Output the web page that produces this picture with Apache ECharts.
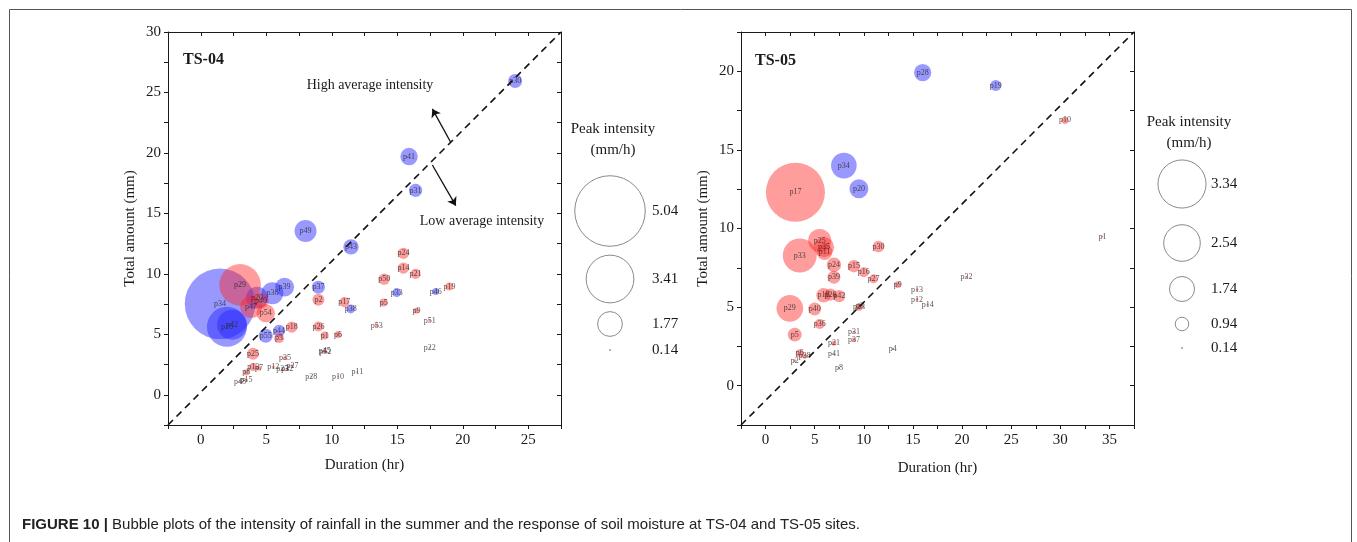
<!DOCTYPE html>
<html>
<head>
<meta charset="utf-8">
<script src="https://cdn.jsdelivr.net/npm/echarts@6/dist/echarts.min.js"></script>
<style>
  html, body { margin: 0; padding: 0; background: #fff; }
  #chart { width: 1357px; height: 542px; }
</style>
</head>
<body>
<div id="chart"></div>
<script>
// [duration (hr), total amount (mm), peak intensity (mm/h), event]
const ts04Blue = [
  [24.0, 25.95, 1.0, 'p30'], [15.9, 19.7, 1.24, 'p41'], [16.4, 16.9, 0.95, 'p31'],
  [8.0, 13.55, 1.57, 'p49'], [11.47, 12.23, 1.1, 'p43'], [6.4, 8.9, 1.35, 'p39'],
  [8.98, 8.9, 0.93, 'p37'], [11.45, 7.1, 0.64, 'p38'], [14.96, 8.45, 0.64, 'p33'],
  [17.94, 8.54, 0.5, 'p46'], [5.47, 8.4, 1.57, 'p36'], [1.47, 7.52, 5.04, 'p34'],
  [2.0, 5.62, 2.86, 'p16'], [2.39, 5.79, 2.14, 'p42'], [4.96, 4.88, 1.0, 'p55'],
  [5.98, 5.29, 0.86, 'p44'], [4.3, 8.02, 1.57, 'p20']
];
const ts04Red = [
  [3.0, 9.09, 2.97, 'p29'], [3.84, 7.27, 1.57, 'p47'], [4.6, 7.8, 1.1, 'p40'],
  [4.96, 6.75, 1.3, 'p54'], [5.98, 4.68, 0.7, 'p3'], [6.95, 5.6, 0.8, 'p18'],
  [8.98, 5.65, 0.72, 'p26'], [9.46, 4.9, 0.57, 'p1'], [10.48, 4.98, 0.5, 'p6'],
  [9.46, 3.6, 0.3, 'p45'], [9.5, 3.55, 0.2, 'p52'], [8.98, 7.85, 0.86, 'p2'],
  [10.96, 7.66, 0.72, 'p17'], [15.47, 11.7, 0.8, 'p24'], [15.47, 10.47, 0.8, 'p14'],
  [16.4, 10.0, 0.72, 'p21'], [14.0, 9.56, 0.8, 'p50'], [18.98, 8.95, 0.57, 'p19'],
  [13.97, 7.63, 0.57, 'p5'], [16.46, 6.94, 0.43, 'p9'], [17.48, 6.14, 0.2, 'p51'],
  [17.48, 3.91, 0.14, 'p22'], [13.43, 5.73, 0.28, 'p53'], [8.44, 1.51, 0.14, 'p28'],
  [10.48, 1.51, 0.14, 'p10'], [11.95, 1.88, 0.14, 'p11'], [3.99, 3.39, 0.86, 'p25'],
  [6.43, 3.03, 0.3, 'p35'], [4.0, 2.29, 0.57, 'p13'], [4.45, 2.2, 0.36, 'p7'],
  [5.54, 2.3, 0.22, 'p12'], [6.23, 2.1, 0.2, 'p23'], [6.6, 2.1, 0.2, 'p32'],
  [7.0, 2.4, 0.2, 'p27'], [3.48, 1.85, 0.43, 'p8'], [3.0, 1.1, 0.2, 'p48'],
  [3.5, 1.2, 0.2, 'p15']
];
const ts05Blue = [
  [15.99, 19.92, 1.2, 'p28'], [23.43, 19.1, 0.76, 'p19'], [7.97, 14.0, 1.78, 'p34'],
  [9.5, 12.53, 1.32, 'p20']
];
const ts05Red = [
  [30.47, 16.88, 0.5, 'p10'], [3.04, 12.31, 4.1, 'p17'], [5.51, 9.24, 1.6, 'p25'],
  [5.95, 8.81, 1.4, 'p35'], [6.0, 8.5, 1.1, 'p11'], [3.48, 8.28, 2.36, 'p33'],
  [11.49, 8.85, 0.8, 'p30'], [6.96, 7.69, 1.0, 'p24'], [8.99, 7.6, 0.86, 'p15'],
  [10.0, 7.22, 0.7, 'p16'], [10.99, 6.8, 0.62, 'p27'], [6.96, 6.9, 0.9, 'p39'],
  [13.45, 6.43, 0.48, 'p9'], [15.42, 6.11, 0.2, 'p13'], [15.42, 5.48, 0.2, 'p12'],
  [16.5, 5.16, 0.18, 'p14'], [20.45, 6.9, 0.18, 'p32'], [12.95, 2.34, 0.14, 'p4'],
  [34.3, 9.49, 0.14, 'p1'], [5.9, 5.75, 1.0, 'p18'], [6.6, 5.8, 0.85, 'p26'],
  [7.5, 5.7, 0.85, 'p42'], [2.47, 4.92, 1.85, 'p29'], [5.0, 4.88, 0.9, 'p40'],
  [5.51, 3.93, 0.7, 'p36'], [2.97, 3.25, 0.97, 'p5'], [9.5, 4.99, 0.5, 'p23'],
  [9.6, 5.05, 0.3, 'p3'], [8.99, 3.4, 0.2, 'p31'], [8.99, 2.91, 0.3, 'p37'],
  [6.96, 2.7, 0.35, 'p21'], [6.96, 2.02, 0.14, 'p41'], [7.47, 1.13, 0.14, 'p8'],
  [3.48, 2.06, 0.55, 'p6'], [3.99, 1.87, 0.35, 'p38'], [2.97, 1.59, 0.2, 'p2']
];

const legend04 = [5.04, 3.41, 1.77, 0.14];
const legend05 = [3.34, 2.54, 1.74, 0.94, 0.14];

const range04 = { x: [-2.5, 27.5], y: [-2.5, 30] };
const range05 = { x: [-2.5, 37.5], y: [-2.5, 22.5] };
// diagonal reference line, corner to corner of each plot
const diag04 = [[-2.5, -2.5], [27.5, 30]];
const diag05 = [[-2.5, -2.5], [37.5, 22.5]];
const arrowUp04 = [[19.08, 20.88], [17.68, 23.64]];
const arrowDown04 = [[17.68, 19.0], [19.47, 15.64]];

const SERIF = 'Liberation Serif';
const INK = '#1a1a1a';
const BLUE = 'rgba(40,40,255,0.6)';
const RED = 'rgba(255,40,40,0.58)';
const R04 = 7;   // px radius per mm/h
const R05 = 7.2;

function majorOnly(v) {
  return Math.abs(v % 5) < 1e-9 ? String(v) : '';
}

function axisBase(gridIndex, range) {
  return {
    gridIndex, type: 'value', min: range[0], max: range[1], interval: 2.5,
    splitLine: { show: false },
    axisLine: { onZero: false, lineStyle: { color: INK, width: 1 } },
  };
}

function xAxes(gridIndex, range, nameGap) {
  const base = axisBase(gridIndex, range);
  return [
    Object.assign({}, base, {
      position: 'bottom',
      name: 'Duration (hr)', nameLocation: 'middle', nameGap,
      nameTextStyle: { fontFamily: SERIF, fontSize: 15, color: INK },
      axisTick: { length: 4, lineStyle: { color: INK } },
      axisLabel: { formatter: majorOnly, fontFamily: SERIF, fontSize: 15, color: INK, margin: 8 },
    }),
    Object.assign({}, base, {
      position: 'top',
      axisTick: { inside: true, length: 4, lineStyle: { color: INK } },
      axisLabel: { show: false },
    }),
  ];
}

function yAxes(gridIndex, range) {
  const base = axisBase(gridIndex, range);
  return [
    Object.assign({}, base, {
      position: 'left',
      name: 'Total amount (mm)', nameLocation: 'middle', nameGap: 30,
      nameTextStyle: { fontFamily: SERIF, fontSize: 15, color: INK },
      axisTick: { length: 4, lineStyle: { color: INK } },
      axisLabel: { formatter: majorOnly, fontFamily: SERIF, fontSize: 15, color: INK, margin: 7 },
    }),
    Object.assign({}, base, {
      position: 'right',
      axisTick: { inside: true, length: 4, lineStyle: { color: INK } },
      axisLabel: { show: false },
    }),
  ];
}

function bubbles(data, color, scale, axisIndex) {
  return {
    type: 'scatter',
    xAxisIndex: axisIndex, yAxisIndex: axisIndex,
    data,
    symbolSize: (d) => Math.max(1.5, d[2] * scale * 2),
    itemStyle: { color },
    label: {
      show: true, position: 'inside',
      formatter: (p) => p.data[3],
      fontFamily: SERIF, fontSize: 8, color: '#2a2a2a',
    },
    emphasis: { disabled: true },
    silent: true,
    z: 3,
  };
}

function diagonal(points, axisIndex, extra) {
  return Object.assign({
    type: 'line',
    xAxisIndex: axisIndex, yAxisIndex: axisIndex,
    data: points,
    symbol: 'none',
    lineStyle: { color: '#111', width: 1.6, type: [7, 5] },
    silent: true,
    z: 4,
  }, extra || {});
}

function legendGraphics(values, scale, cx, ys, labelX, titleX, titleY) {
  const out = [
    { type: 'text', x: titleX, y: titleY, style: {
      text: 'Peak intensity\n(mm/h)', align: 'center', verticalAlign: 'middle', lineHeight: 21,
      font: '15px "Liberation Serif"', fill: INK } },
  ];
  values.forEach((v, i) => {
    const r = Math.max(1, v * scale);
    out.push({ type: 'circle', shape: { cx, cy: ys[i], r },
      style: v < 0.2 ? { fill: '#999' } : { fill: 'none', stroke: '#8a8a8a', lineWidth: 1 } });
    out.push({ type: 'text', x: labelX, y: ys[i], style: {
      text: v.toFixed(2), font: '15px "Liberation Serif"', fill: INK, verticalAlign: 'middle' } });
  });
  return out;
}

const chart = echarts.init(document.getElementById('chart'));

chart.setOption({
  backgroundColor: '#fff',
  animation: false,
  grid: [
    { left: 168, top: 32, width: 393, height: 393 },
    { left: 741, top: 32, width: 393, height: 393 },
  ],
  xAxis: [...xAxes(0, range04.x, 33), ...xAxes(1, range05.x, 36)],
  yAxis: [...yAxes(0, range04.y), ...yAxes(1, range05.y)],
  series: [
    diagonal(diag04, 0, {
      markLine: {
        silent: true, symbol: ['none', 'arrow'], symbolSize: 8,
        label: { show: false },
        lineStyle: { color: '#111', width: 1.3, type: 'solid' },
        data: [
          [{ coord: arrowUp04[0] }, { coord: arrowUp04[1] }],
          [{ coord: arrowDown04[0] }, { coord: arrowDown04[1] }],
        ],
      },
    }),
    bubbles(ts04Blue, BLUE, R04, 0),
    bubbles(ts04Red, RED, R04, 0),
    diagonal(diag05, 2),
    bubbles(ts05Blue, BLUE, R05, 2),
    bubbles(ts05Red, RED, R05, 2),
  ],
  graphic: [
    { type: 'rect', shape: { x: 9.5, y: 9.5, width: 1342, height: 560 },
      style: { fill: 'none', stroke: '#555', lineWidth: 1 }, silent: true },
    { type: 'text', x: 183, y: 60, style: { text: 'TS-04', font: 'bold 16px "Liberation Serif"', fill: INK, verticalAlign: 'middle' } },
    { type: 'text', x: 755, y: 61, style: { text: 'TS-05', font: 'bold 16px "Liberation Serif"', fill: INK, verticalAlign: 'middle' } },
    { type: 'text', x: 370, y: 85, style: { text: 'High average intensity', font: '14px "Liberation Serif"', fill: INK, align: 'center', verticalAlign: 'middle' } },
    { type: 'text', x: 482, y: 221, style: { text: 'Low average intensity', font: '14px "Liberation Serif"', fill: INK, align: 'center', verticalAlign: 'middle' } },
    ...legendGraphics(legend04, R04, 610, [211, 279, 324, 350], 652, 613, 139.5),
    ...legendGraphics(legend05, R05, 1182, [184, 243, 289, 324, 348], 1211, 1189, 133),
    { type: 'text', x: 22, y: 525, style: {
      text: '{b|FIGURE 10 |} Bubble plots of the intensity of rainfall in the summer and the response of soil moisture at TS-04 and TS-05 sites.',
      verticalAlign: 'middle',
      font: '15px "Liberation Sans"', fill: '#222',
      rich: { b: { font: 'bold 15px "Liberation Sans"', fill: '#222' } },
    } },
  ],
});
</script>
</body>
</html>
